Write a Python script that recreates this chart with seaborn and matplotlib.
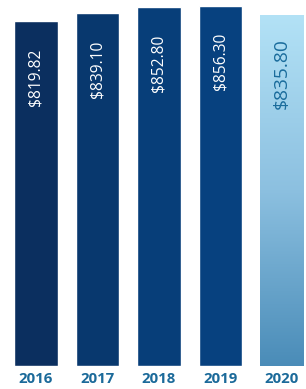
import numpy as np
import pandas as pd
import seaborn as sns
import matplotlib.pyplot as plt
import matplotlib.colors as mcolors

# data
years = ["2016", "2017", "2018", "2019", "2020"]
values = [819.82, 839.10, 852.80, 856.30, 835.80]
labels = ["$819.82", "$839.10", "$852.80", "$856.30", "$835.80"]
bar_colors = ["#0b2f5f", "#08386e", "#073e79", "#07417f", "#8cc6e6"]

df = pd.DataFrame({"year": years, "value": values})

sns.set_theme(style="white")
plt.rcParams["font.family"] = ["Open Sans", "DejaVu Sans"]

fig = plt.figure(figsize=(3.06, 3.89), dpi=100)
ax = fig.add_axes([0, 23 / 389, 1, 366 / 389])

sns.barplot(data=df, x="year", y="value", hue="year", palette=bar_colors,
            width=0.715, legend=False, ax=ax, saturation=1)

# gradient for the 2020 bar (light top -> darker bottom)
last = ax.patches[-1]
x0, y0 = last.get_x(), last.get_y()
w, h = last.get_width(), last.get_height()
cmap = mcolors.LinearSegmentedColormap.from_list("g", ["#4a8cb8", "#8cc0e0", "#b3e2f6"])
grad = np.linspace(0, 1, 256).reshape(-1, 1)
img = ax.imshow(grad, cmap=cmap, aspect="auto", origin="lower",
                extent=[x0, x0 + w, y0, y0 + h], zorder=last.get_zorder() + 0.1)
img.set_clip_path(last)
ax.set_xlim(-0.585, 4.39)
ax.set_ylim(0, 870.6)

# value labels inside bars
for i, (v, lab) in enumerate(zip(values, labels)):
    if i < 4:
        ax.text(i, v - 64, lab, rotation=90, ha="center", va="top",
                color="white", fontsize=11.2, zorder=5)
    else:
        ax.text(i, v - 57, lab, rotation=90, ha="center", va="top",
                color="#1a6c9c", fontsize=13.8, zorder=5)

ax.set_xlabel("")
ax.set_ylabel("")
ax.set_yticks([])
ax.tick_params(axis="x", length=0, pad=4)
for t in ax.get_xticklabels():
    t.set_fontweight("bold")
    t.set_color("#1b6a9a")
    t.set_fontsize(10.8)
sns.despine(ax=ax, left=True, bottom=True)

fig.savefig("out.png", dpi=100)
